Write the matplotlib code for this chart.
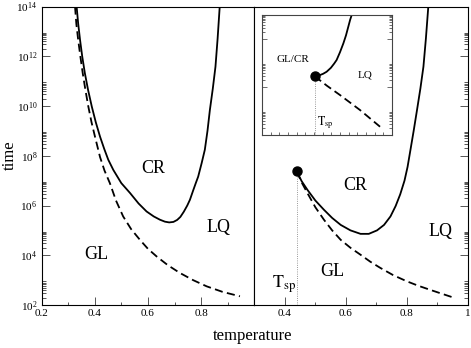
import numpy as np
import matplotlib
matplotlib.use("Agg")
import matplotlib.pyplot as plt
from matplotlib.ticker import FixedLocator, LogFormatterMathtext, NullFormatter

plt.rcParams['font.family'] = ['Liberation Serif', 'DejaVu Serif']
plt.rcParams['mathtext.fontset'] = 'stix'

# ---- data: (temperature, log10 time) ----
left_solid_T = [0.332, 0.338, 0.345, 0.353, 0.363, 0.375, 0.389, 0.404, 0.420, 0.436, 0.451, 0.470,
                0.500, 0.533, 0.565, 0.595, 0.622, 0.645, 0.664, 0.680, 0.696, 0.710, 0.722, 0.735,
                0.748, 0.758, 0.770, 0.780, 0.789, 0.802, 0.814, 0.824, 0.833, 0.844, 0.854, 0.862, 0.870]
left_solid_L = [14.0, 13.3, 12.65, 12.0, 11.32, 10.65, 9.98, 9.35, 8.77, 8.27, 7.84, 7.43,
                6.90, 6.50, 6.08, 5.76, 5.56, 5.43, 5.35, 5.32, 5.34, 5.42, 5.54, 5.75,
                6.00, 6.23, 6.60, 6.90, 7.16, 7.70, 8.24, 9.00, 9.84, 10.7, 11.58, 12.7, 14.0]
left_dash_T = [0.326, 0.331, 0.338, 0.346, 0.355, 0.365, 0.376, 0.388, 0.401, 0.420, 0.437, 0.457,
               0.480, 0.507, 0.537, 0.570, 0.600, 0.633, 0.675, 0.720, 0.770, 0.821, 0.880, 0.946]
left_dash_L = [14.0, 13.3, 12.65, 12.0, 11.32, 10.65, 9.98, 9.35, 8.77, 7.95, 7.40, 6.90,
               6.20, 5.56, 5.05, 4.62, 4.26, 3.95, 3.60, 3.29, 3.00, 2.75, 2.53, 2.35]

spinodal_T = 0.439
spinodal_L = 7.37
right_solid_T = [0.439, 0.455, 0.474, 0.500, 0.528, 0.555, 0.583, 0.615, 0.648, 0.675, 0.702, 0.725,
                 0.746, 0.763, 0.778, 0.792, 0.802, 0.811, 0.822, 0.833, 0.844, 0.854, 0.862, 0.870]
right_solid_L = [7.37, 6.98, 6.63, 6.20, 5.83, 5.50, 5.22, 5.00, 4.86, 4.86, 5.00, 5.22,
                 5.56, 5.98, 6.45, 7.00, 7.55, 8.20, 9.00, 9.84, 10.7, 11.58, 12.7, 14.0]
right_dash_T = [0.439, 0.455, 0.474, 0.500, 0.528, 0.555, 0.583, 0.615, 0.648, 0.680, 0.713, 0.755,
                0.800, 0.838, 0.876, 0.915, 0.952]
right_dash_L = [7.37, 6.93, 6.50, 5.93, 5.43, 5.00, 4.62, 4.30, 4.02, 3.74, 3.49, 3.20,
                2.95, 2.77, 2.61, 2.45, 2.30]

# inset (axes-fraction coordinates)
inset_dot = (0.405, 0.49)
inset_solid_x = [0.405, 0.440, 0.470, 0.497, 0.530, 0.555, 0.574, 0.600, 0.626, 0.646, 0.664, 0.678, 0.690]
inset_solid_y = [0.490, 0.497, 0.510, 0.527, 0.560, 0.595, 0.625, 0.690, 0.764, 0.830, 0.903, 0.960, 1.000]
inset_dash_x = [0.405, 0.500, 0.600, 0.754, 0.908]
inset_dash_y = [0.490, 0.410, 0.333, 0.208, 0.069]

left_xticks = [0.2, 0.4, 0.6, 0.8]
left_xlabels = ['0.2', '0.4', '0.6', '0.8']
right_xticks = [0.4, 0.6, 0.8, 1.0]
right_xlabels = ['0.4', '0.6', '0.8', '1']

fig = plt.figure(figsize=(4.71, 3.48), dpi=100)
W, H = 471, 348
def rect(x0, y0, x1, y1):
    return [x0 / W, 1 - y1 / H, (x1 - x0) / W, (y1 - y0) / H]

axL = fig.add_axes(rect(41.5, 6.5, 254.3, 305))
axR = fig.add_axes(rect(254.3, 6.5, 468, 305))
axI = fig.add_axes(rect(262, 15, 392, 135))

lw = 1.3
dash = (0, (4.5, 2.4))
for ax in (axL, axR):
    ax.set_yscale('log')
    ax.set_ylim(1e2, 1e14)
    for s in ax.spines.values():
        s.set_linewidth(0.8)
    major = [10.0 ** k for k in range(2, 15, 2)]
    minor = [m * 10.0 ** k for k in range(2, 14, 2) for m in range(2, 10)]
    ax.yaxis.set_major_locator(FixedLocator(major))
    ax.yaxis.set_minor_locator(FixedLocator(minor))
    ax.tick_params(which='major', direction='in', length=6, width=0.7, color='#555555')
    ax.tick_params(which='minor', direction='in', length=3.2, width=0.7, color='#555555')
    ax.tick_params(labelsize=8, pad=2)

axL.set_xlim(0.2, 1.0)
axL.set_xticks(left_xticks)
axL.set_xticklabels(left_xlabels)
axL.xaxis.set_minor_locator(FixedLocator([0.3, 0.5, 0.7, 0.9]))
axL.yaxis.set_major_formatter(LogFormatterMathtext())
axL.yaxis.set_minor_formatter(NullFormatter())
axL.tick_params(axis='y', which='both', left=True, right=False, pad=3)
axL.tick_params(axis='x', which='major', pad=3)
axL.tick_params(axis='x', which='minor', length=2.5)

axR.set_xlim(0.3, 1.0)
axR.set_xticks(right_xticks)
axR.set_xticklabels(right_xlabels)
axR.xaxis.set_minor_locator(FixedLocator([0.5, 0.7, 0.9]))
axR.tick_params(axis='y', which='both', left=False, right=True, labelleft=False)
axR.yaxis.set_minor_formatter(NullFormatter())
axR.tick_params(axis='x', which='major', pad=3)
axR.tick_params(axis='x', which='minor', length=2.5)

# left panel curves
axL.plot(left_solid_T, [10 ** v for v in left_solid_L], color='black', lw=lw)
axL.plot(left_dash_T, [10 ** v for v in left_dash_L], color='black', lw=lw, linestyle=dash)

# right panel curves
axR.plot(right_solid_T, [10 ** v for v in right_solid_L], color='black', lw=lw)
axR.plot(right_dash_T, [10 ** v for v in right_dash_L], color='black', lw=lw, linestyle=dash)
axR.plot([spinodal_T, spinodal_T], [1e2, 10 ** spinodal_L], color='#777777', lw=0.6, linestyle=':')
axR.plot([spinodal_T], [10 ** spinodal_L], 'o', color='black', markersize=6.5)

fs = 13
axL.text(0.620, 10 ** 7.50, 'CR', fontsize=fs, ha='center', va='center')
axL.text(0.864, 10 ** 5.13, 'LQ', fontsize=fs, ha='center', va='center')
axL.text(0.407, 10 ** 4.02, 'GL', fontsize=fs, ha='center', va='center')
axR.text(0.632, 10 ** 6.79, 'CR', fontsize=fs, ha='center', va='center')
axR.text(0.909, 10 ** 4.96, 'LQ', fontsize=fs, ha='center', va='center')
axR.text(0.556, 10 ** 3.35, 'GL', fontsize=fs, ha='center', va='center')
axR.text(0.397, 10 ** 2.85, r'$\mathrm{T}_{\mathrm{sp}}$', fontsize=fs, ha='center', va='center')

# inset
axI.set_xlim(0, 1)
axI.set_ylim(0, 1)
for s in axI.spines.values():
    s.set_linewidth(0.8)
    s.set_color('#444444')
axI.set_xticks([i / 15 for i in range(16)])
axI.set_yticks([0.4, 0.8])
inset_minor = [(np.log10(m) + k) / 5 for k in (0, 2, 4) for m in range(2, 10)]
axI.yaxis.set_minor_locator(FixedLocator(inset_minor))
axI.tick_params(which='both', direction='in', labelbottom=False, labelleft=False,
                left=True, right=True, bottom=True, top=False, color='#555555', width=0.6)
axI.tick_params(axis='x', length=2)
axI.tick_params(axis='y', which='major', length=3.5)
axI.tick_params(axis='y', which='minor', length=2)
axI.plot(inset_solid_x, inset_solid_y, color='black', lw=lw, clip_on=True)
axI.plot(inset_dash_x, inset_dash_y, color='black', lw=lw, linestyle=dash)
axI.plot([inset_dot[0], inset_dot[0]], [0, inset_dot[1]], color='#777777', lw=0.6, linestyle=':')
axI.plot([inset_dot[0]], [inset_dot[1]], 'o', color='black', markersize=6.5)
axI.text(0.238, 0.633, 'GL/CR', fontsize=8, ha='center', va='center')
axI.text(0.79, 0.5, 'LQ', fontsize=8, ha='center', va='center')
axI.text(0.485, 0.1, r'$\mathrm{T}_{\mathrm{sp}}$', fontsize=8.5, ha='center', va='center')

fig.text(10 / W, 1 - 155 / H, 'time', rotation=90, fontsize=12, ha='center', va='center')
fig.text(253 / W, 1 - 336 / H, 'temperature', fontsize=12, ha='center', va='center')

fig.savefig('out.png', dpi=100)
